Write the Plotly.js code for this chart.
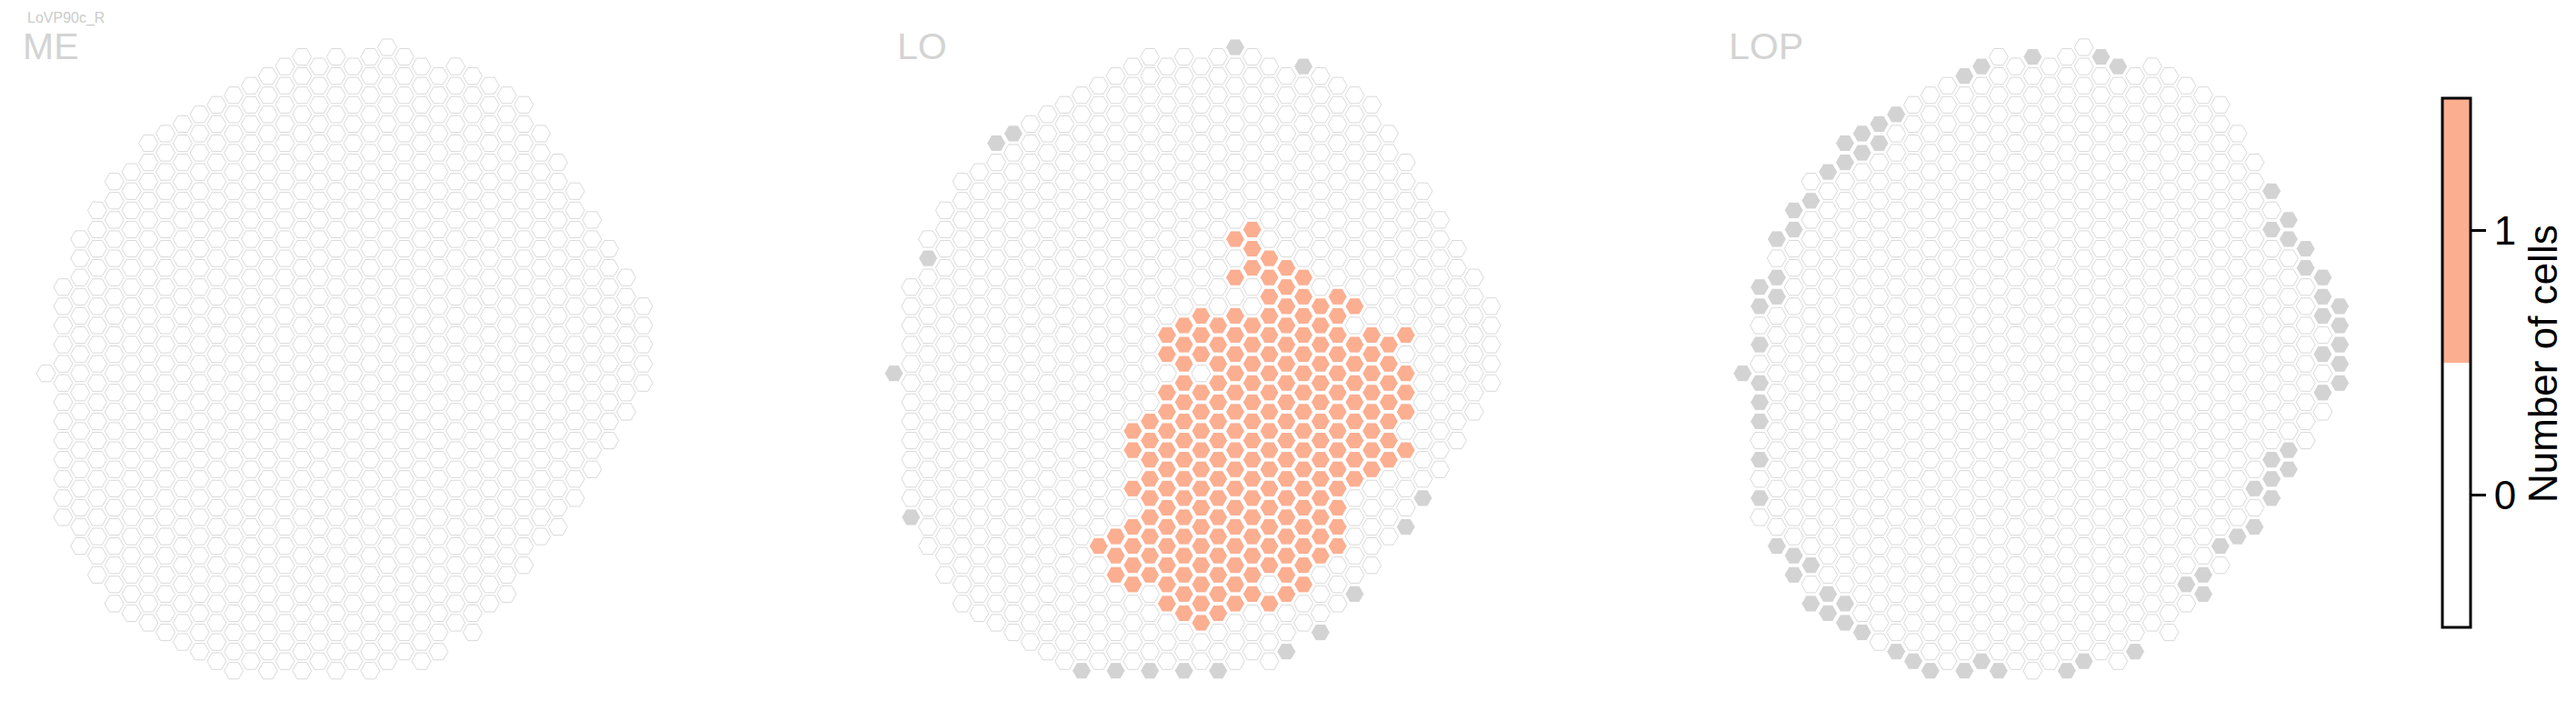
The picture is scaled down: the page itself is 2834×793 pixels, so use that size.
<!DOCTYPE html>
<html><head><meta charset="utf-8">
<script src="https://cdn.plot.ly/plotly-3.0.1.min.js"></script>
<style>html,body{margin:0;padding:0;background:#fff;overflow:hidden}</style>
</head><body><div id="chart" style="width:2834px;height:793px"></div>
<script>
// ---------------- data ----------------
const neuronType = 'LoVP90c_R';
const regionNames = ['ME', 'LO', 'LOP'];
const colorbarTitle = 'Number of cells';
const countTicks = [0, 1];

// hex columns (index 0..35) of the shared column grid; rows are half-row indices (top = 0)
const columnIds       = [0,1,2,3,4,5,6,7,8,9,10,11,12,13,14,15,16,17,18,19,20,21,22,23,24,25,26,27,28,29,30,31,32,33,34,35];
const columnTopRow    = [34,25,20,17,14,13,10,9,8,7,6,5,4,3,2,1,2,1,2,1,0,1,2,3,2,3,4,5,6,9,12,15,18,21,24,27];
const columnBottomRow = [34,49,52,55,58,59,60,61,62,63,64,65,64,65,64,65,64,65,64,65,64,63,64,63,60,61,58,57,54,51,50,47,44,41,38,35];

// ME: every column present, no cells
const meOneRows = [];
const meOneCols = [];
const meAbsent = [];

// LO: columns holding 1 cell, listed per half-row
const loOneRows = [19,20,21,22,23,24,25,26,27,28,29,30,31,32,33,34,35,36,37,38,39,40,41,42,43,44,45,46,47,48,49,50,51,52,53,54,55,56,57,58,59,60];
const loOneCols = [
  [21],[20],[21],[22],[21,23],[20,22,24],[23],[22,24,26],[23,25,27],
  [18,20,22,24,26],[17,19,21,23,25],[16,18,20,22,24,26,28,30],
  [17,19,21,23,25,27,29],[16,18,20,22,24,26,28],[17,19,21,23,25,27,29],
  [20,22,24,26,28,30],[17,19,21,23,25,27,29],[16,18,20,22,24,26,28,30],
  [17,19,21,23,25,27,29],[16,18,20,22,24,26,28,30],[15,17,19,21,23,25,27,29],
  [14,16,18,20,22,24,26,28],[15,17,19,21,23,25,27,29],[14,16,18,20,22,24,26,28,30],
  [15,17,19,21,23,25,27,29],[16,18,20,22,24,26,28],[15,17,19,21,23,25,27],
  [14,16,18,20,22,24,26],[15,17,19,21,23,25],[16,18,20,22,24,26],
  [15,17,19,21,23,25],[14,16,18,20,22,24,26],[13,15,17,19,21,23,25],
  [12,14,16,18,20,22,24,26],[13,15,17,19,21,23,25],[14,16,18,20,22,24],
  [13,15,17,19,21,23],[14,16,18,20,24],[17,19,21,23],[16,18,20,22],[17,19],[18]
];
// LO: columns not present in the neuropil  [column, half-row]
const loAbsent = [[20,0],[24,2],[7,9],[6,10],[2,22],[0,34],[1,49],[31,47],[30,50],[27,57],[25,61],[23,63],[11,65],[13,65],[15,65],[17,65],[19,65]];

// LOP: no cells; columns not present
const lopOneRows = [];
const lopOneCols = [];
const lopAbsent = [
  [17,1],[21,1],[22,2],[14,2],[13,3],[9,7],[8,8],[7,9],[8,10],[6,10],[7,11],[6,12],[5,13],[4,16],[3,17],[3,19],[2,20],[2,24],[1,25],[2,26],[1,27],[1,31],[0,34],
  [1,35],[1,37],[1,39],[1,43],[1,47],[2,52],[3,53],[4,54],[3,55],[5,57],[4,58],[6,58],[5,59],[6,60],[7,61],[9,63],[10,64],[11,65],[13,65],[14,64],[15,65],[19,65],[20,64],[23,63],
  [31,15],[32,18],[31,19],[32,20],[33,21],[33,23],[34,24],[34,26],[35,27],[34,28],[35,29],[35,31],[34,32],[35,33],[35,35],[34,36],
  [32,42],[31,43],[32,44],[31,45],[30,46],[31,47],[30,50],[29,51],[28,52],[27,55],[26,56],[27,57]
];

// ---------------- styling / layout ----------------
const W = 2834, H = 793;
const colPx = 18.77, rowPx = 10.55, topPx = 52;
const gridLeftPx = [50.7, 983.5, 1917.2];
const titleLeftPx = [23, 985, 1900];
const SALMON = '#fcae91', GREY = '#d3d3d3', EDGE = '#d9d9d9';
const FONT = 'Liberation Sans, Arial, sans-serif';
const hexSize = 21;

const cs = [[0,'#ffffff'],[0.5,'#ffffff'],[0.5,SALMON],[1,SALMON]];

const regions = [
  {one: [meOneRows, meOneCols], absent: meAbsent},
  {one: [loOneRows, loOneCols], absent: loAbsent},
  {one: [lopOneRows, lopOneCols], absent: lopAbsent}
];

const traces = [];
const layout = {
  width: W, height: H, margin: {l:0, r:0, t:0, b:0},
  paper_bgcolor: '#fff', plot_bgcolor: 'rgba(0,0,0,0)',
  showlegend: false, hovermode: false,
  font: {family: FONT},
  annotations: []
};

regions.forEach((reg, k) => {
  const key = (a) => a[0] + ',' + a[1];
  const absentSet = new Set(reg.absent.map(key));
  const oneSet = new Set();
  reg.one[0].forEach((r, i) => reg.one[1][i].forEach(c => oneSet.add(c + ',' + r)));
  const px = [], py = [], pv = [], pl = [], gx = [], gy = [];
  columnIds.forEach((c, i) => {
    for (let r = columnTopRow[i]; r <= columnBottomRow[i]; r += 2) {
      const kk = c + ',' + r;
      if (absentSet.has(kk)) { gx.push(c); gy.push(r); continue; }
      const v = oneSet.has(kk) ? 1 : 0;
      px.push(c); py.push(r); pv.push(v); pl.push(v ? '#ffffff' : EDGE);
    }
  });
  const xa = k === 0 ? 'x' : 'x' + (k + 1);
  const ya = k === 0 ? 'y' : 'y' + (k + 1);
  traces.push({
    type: 'scatter', mode: 'markers', x: px, y: py, xaxis: xa, yaxis: ya,
    marker: {symbol: 'hexagon2', size: hexSize, color: pv, colorscale: cs, cmin: -0.5, cmax: 1.5,
      line: {color: pl, width: 1},
      showscale: k === 1,
      colorbar: {
        x: 2687 / W, xanchor: 'left', xref: 'paper', xpad: 0,
        y: 1 - 108 / H, yanchor: 'top', yref: 'paper', ypad: 0,
        len: 582, lenmode: 'pixels', thickness: 31, thicknessmode: 'pixels',
        outlinewidth: 3, outlinecolor: '#000', borderwidth: 0,
        tickmode: 'array', tickvals: countTicks, ticktext: countTicks.map(String),
        ticks: 'outside', ticklen: 16, tickwidth: 3, tickcolor: '#000',
        tickfont: {size: 44, color: '#000', family: FONT},
        title: {text: ''}
      }
    }
  });
  traces.push({
    type: 'scatter', mode: 'markers', x: gx, y: gy, xaxis: xa, yaxis: ya,
    marker: {symbol: 'hexagon2', size: hexSize, color: GREY, line: {color: '#ffffff', width: 1}}
  });
  const x0 = gridLeftPx[k] - 40, x1 = gridLeftPx[k] + 700;
  const axx = {domain: [x0 / W, x1 / W], range: [-40 / colPx, 700 / colPx], visible: false, showgrid: false, zeroline: false, fixedrange: true};
  const axy = {domain: [0, 1], range: [(H - topPx) / rowPx, -topPx / rowPx], visible: false, showgrid: false, zeroline: false, fixedrange: true};
  if (k > 0) axy.anchor = xa;
  if (k > 0) axx.anchor = ya;
  layout[k === 0 ? 'xaxis' : 'xaxis' + (k + 1)] = axx;
  layout[k === 0 ? 'yaxis' : 'yaxis' + (k + 1)] = axy;
  layout.annotations.push({
    xref: 'paper', yref: 'paper', x: titleLeftPx[k] / W, y: 1 - 51 / H,
    xanchor: 'left', yanchor: 'middle', showarrow: false,
    text: regionNames[k], font: {size: 41, color: '#d3d3d3', family: FONT}
  });
});

layout.annotations.push({
  xref: 'paper', yref: 'paper', x: 28 / W, y: 1 - 20 / H, xanchor: 'left', yanchor: 'middle', showarrow: false,
  text: neuronType, font: {size: 16, color: '#cccccc', family: FONT}
});
layout.annotations.push({
  xref: 'paper', yref: 'paper', x: 2797 / W, y: 1 - 400 / H, xanchor: 'center', yanchor: 'middle', showarrow: false,
  textangle: -90, text: colorbarTitle, font: {size: 44, color: '#000', family: FONT}
});

Plotly.newPlot('chart', traces, layout, {displayModeBar: false, staticPlot: true});
</script></body></html>
